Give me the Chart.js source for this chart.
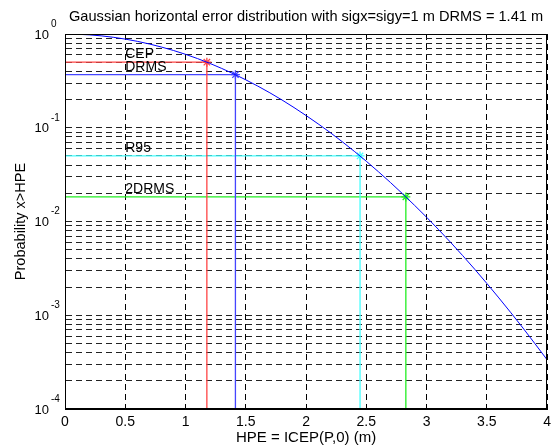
<!DOCTYPE html>
<html>
<head>
<meta charset="utf-8">
<script src="https://cdn.jsdelivr.net/npm/chart.js@4.4.0/dist/chart.umd.min.js"></script>
<style>
  html, body { margin: 0; padding: 0; background: #fff; }
  #wrap { width: 556px; height: 447px; }
</style>
</head>
<body>
<div id="wrap"><canvas id="hpeChart" width="556" height="447"></canvas></div>
<script>
const chartTitle = "Gaussian horizontal error distribution with sigx=sigy=1 m DRMS = 1.41 m";
const xTitle = "HPE = ICEP(P,0) (m)";
const yTitle = "Probability x>HPE";

// curve
const hpe = [0, 0.2, 0.4, 0.6, 0.8, 1.0, 1.2, 1.4, 1.6, 1.8, 2.0,
             2.2, 2.4, 2.6, 2.8, 3.0, 3.2, 3.4, 3.6, 3.8, 4.0];
const probability = [1, 0.980, 0.923, 0.835, 0.726, 0.607, 0.487, 0.375, 0.278, 0.198, 0.135,
                     0.0889, 0.0561, 0.0340, 0.0198, 0.0111, 0.00598, 0.00309, 0.00153, 0.00073, 0.000335];

// marked levels
const levelNames = ["CEP", "DRMS", "R95", "2DRMS"];
const levelHpe = [1.177, 1.414, 2.448, 2.828];
const levelProb = [0.5, 0.368, 0.05, 0.0183];
const levelColors = ["#ff4545", "#4545ff", "#45ffff", "#22ee22"];

const xTicks = [0, 0.5, 1, 1.5, 2, 2.5, 3, 3.5, 4];
const yDecades = [1e-4, 1e-3, 1e-2, 1e-1, 1];
const yDecadeExp = ["-4", "-3", "-2", "-1", "0"];
const yMinorSteps = [2, 3, 4, 5, 6, 7, 8, 9];

const fontFamily = '"Liberation Sans", Arial, sans-serif';
const yMin = yDecades[0];

const yGrid = [];
yDecades.forEach(d => {
  yGrid.push(d);
  if (d < 1) yMinorSteps.forEach(m => yGrid.push(m * d));
});

const datasets = [{
  data: hpe.map((h, i) => ({ x: h, y: probability[i] })),
  borderColor: "#0000ff",
  borderWidth: 1,
  pointRadius: 0,
  cubicInterpolationMode: "monotone",
  fill: false
}];

levelNames.forEach((name, i) => {
  datasets.push({
    label: name,
    data: [
      { x: 0, y: levelProb[i] },
      { x: levelHpe[i], y: levelProb[i] },
      { x: levelHpe[i], y: yMin }
    ],
    borderColor: levelColors[i],
    backgroundColor: levelColors[i],
    borderWidth: 1.3,
    pointStyle: "star",
    pointRadius: [0, 4.5, 0],
    pointBorderWidth: 1.3,
    pointBorderColor: levelColors[i],
    tension: 0,
    fill: false
  });
});

const annotate = {
  id: "annotate",
  afterDatasetsDraw(chart) {
    const { ctx, chartArea: a, scales: { x, y } } = chart;
    ctx.save();
    ctx.strokeStyle = "#000";
    ctx.lineWidth = 1;
    ctx.strokeRect(Math.round(a.left) + 0.5, Math.round(a.top) + 0.5,
                   Math.round(a.right - a.left) - 1, Math.round(a.bottom - a.top) - 1);

    ctx.fillStyle = "#000";
    ctx.textBaseline = "middle";
    ctx.textAlign = "left";
    ctx.font = "14px " + fontFamily;
    levelNames.forEach((n, i) => {
      ctx.fillText(n, x.getPixelForValue(0.5), y.getPixelForValue(levelProb[i]) - 8);
    });

    yDecades.forEach((d, i) => {
      const py = y.getPixelForValue(d);
      ctx.font = "13px " + fontFamily;
      ctx.textAlign = "right";
      ctx.fillText("10", a.left - 16, py + 1);
      ctx.font = "10px " + fontFamily;
      ctx.textAlign = "left";
      ctx.fillText(yDecadeExp[i], a.left - 14, py - 10);
    });

    ctx.font = "14.6px " + fontFamily;
    ctx.textAlign = "center";
    ctx.fillText(chartTitle, (a.left + a.right) / 2, 17);
    ctx.restore();
  }
};

new Chart(document.getElementById("hpeChart"), {
  type: "line",
  data: { datasets: datasets },
  options: {
    responsive: false,
    animation: false,
    layout: { padding: { top: 34, right: 6, left: 0, bottom: 0 } },
    plugins: {
      legend: { display: false },
      title: { display: false },
      tooltip: { enabled: false }
    },
    scales: {
      x: {
        type: "linear",
        min: 0,
        max: 4,
        afterBuildTicks: s => { s.ticks = xTicks.map(v => ({ value: v })); },
        afterFit: s => { s.height = 38; },
        ticks: {
          callback: v => String(v),
          color: "#000",
          font: { size: 14, family: fontFamily },
          padding: 5,
          maxRotation: 0,
          autoSkip: false
        },
        grid: { color: "#000", lineWidth: 1, drawTicks: false },
        border: { display: true, color: "#000", width: 1, dash: [6, 4] },
        title: {
          display: true,
          text: xTitle,
          color: "#000",
          font: { size: 15, family: fontFamily },
          padding: { top: 0, bottom: 0 }
        }
      },
      y: {
        type: "logarithmic",
        min: yDecades[0],
        max: yDecades[yDecades.length - 1],
        afterBuildTicks: s => { s.ticks = yGrid.map(v => ({ value: v })); },
        afterFit: s => { s.width = 65; },
        ticks: { display: false },
        grid: { color: "#222", lineWidth: 1, drawTicks: false },
        border: { display: true, color: "#000", width: 1, dash: [6, 4] },
        title: {
          display: true,
          text: yTitle,
          color: "#000",
          font: { size: 14.5, family: fontFamily },
          padding: { top: 12, bottom: 0 }
        }
      }
    }
  },
  plugins: [annotate]
});
</script>
</body>
</html>
